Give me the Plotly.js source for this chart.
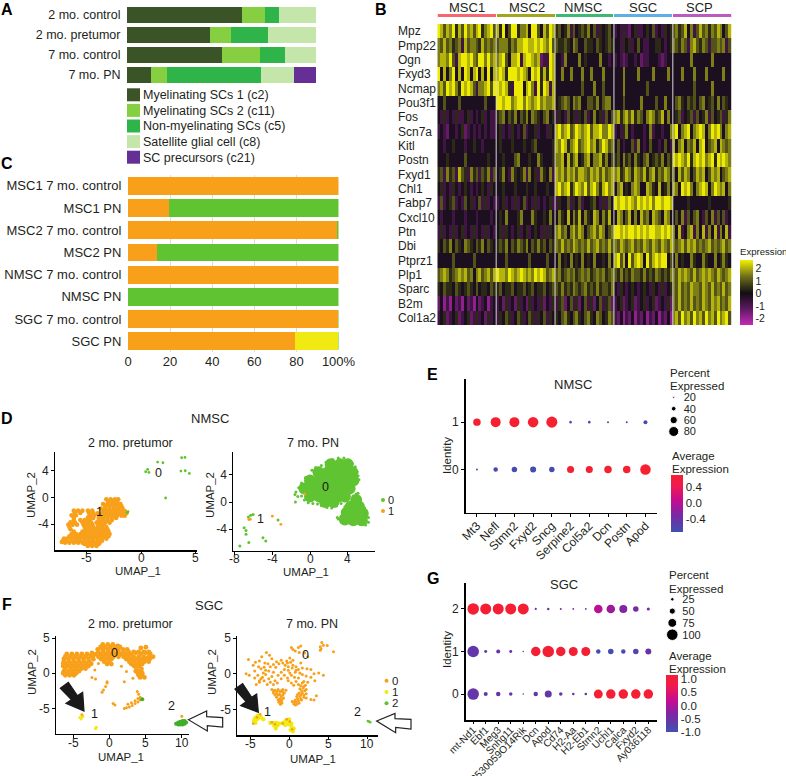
<!DOCTYPE html>
<html><head><meta charset="utf-8">
<script src="https://cdn.plot.ly/plotly-3.0.1.min.js"></script>
<style>html,body{margin:0;padding:0;background:#fff}</style></head>
<body><div id="c" style="width:786px;height:776px"></div>
<script>
const W=786,H=776,FONT='"Liberation Sans",Arial,sans-serif',INK='#231f20';
// ---------- Panel A
const aRows=['2 mo. control','2 mo. pretumor','7 mo. control','7 mo. PN'];
const aNames=['Myelinating SCs 1 (c2)','Myelinating SCs 2 (c11)','Non-myelinating SCs (c5)','Satellite glial cell (c8)','SC precursors (c21)'];
const aColors=['#3a5428','#86cf40','#2fb44a','#c5e6ab','#662f96'];
const aC2=[60.8,43.8,50.4,12.5];
const aC11=[12.2,11.1,20.0,8.7];
const aC5=[7.2,19.6,13.4,49.6];
const aC8=[19.8,25.5,16.2,17.8];
const aC21=[0,0,0,11.4];
// ---------- Panel C
const cRows=['MSC1 7 mo. control','MSC1 PN','MSC2 7 mo. control','MSC2 PN','NMSC 7 mo. control','NMSC PN','SGC 7 mo. control','SGC PN'];
const cOrange=[100,19.7,99.5,14,100,0,99.7,79.5];
const cYellow=[0,0,0,0,0,0,0,20.2];
const cGreen=[0,80.3,0.5,86,0,100,0.3,0.3];
// ---------- Panel B
const clusters=['MSC1','MSC2','NMSC','SGC','SCP'];
const clusterColors=['#f8666d','#a3a51e','#3cb873','#5cb0e3','#bb5bbf'];
const genes=['Mpz','Pmp22','Ogn','Fxyd3','Ncmap','Pou3f1','Fos','Scn7a','Kitl','Postn','Fxyd1','Chl1','Fabp7','Cxcl10','Ptn','Dbi','Ptprz1','Plp1','Sparc','B2m','Col1a2'];
const heatLevels=[-2.4,-1.85,-1.3,-0.75,-0.15,0.4,0.95,1.5,2.05,2.6];
const heatRows=[
'98687958697868957896 85946995778499648698 56457364565746354564 34353245334546343545 67568473686757687468',
'76867567386776586767 67775768899889898796 65565476446554654565 44354534643344554345 76576378657636676736',
'78879638998976997978 78964889389987823398 44374444745444474434 34323443423344432344 44444474444447444444',
'94847948498489484948 89859998987498958598 44744744474474447444 44474444744447444474 44474447444744444744',
'78698975989863778969 98985399948973959838 44444444464447446444 44474444444644444444 44444446444447444444',
'44644446444444446444 99899789979878978778 45676476744665746774 44464444474444644744 46754656467456474654',
'43534353345343453433 56746574657476546745 35436453546347453646 78578685764787568474 45634563645736456357',
'34324434523434343433 45343543463445344354 89789679878968897798 34357434443473443447 89478947898479897478',
'44344544434454434444 45444544454456444445 87985789678978579867 46434463743464434643 84784768489467848767',
'44454444464444444544 44544467444544754445 77848578457847785746 56475647546745657465 98987958989789598987',
'56375638653756365736 45743754573745375473 87868786887687868678 78568758768578576875 74868746878468784678',
'45343543454343454354 44544454445445444544 89789579879689758978 47845478744875484574 87498974789847987847',
'36345634364534635343 34534353463435343453 35446354634456435364 98998987989897998998 44444544444454444445',
'43444344434443444434 45474445744475445474 47548475847548747584 48746847486748764874 46473646743647364634',
'35343534534353435343 45354345345345435354 78674786874678687467 99898998989899889898 74834783748374837483',
'54657465476546574654 56574657657465756465 76867687676867867686 76876786768768768768 76786878676786767867',
'44444644444464444444 44464444444644444644 47454745474547445474 89684968984968989946 47454475447544745754',
'67875678786747867868 98879878987879898678 67567675676756767567 65756576657565765657 76878768678787687678',
'54655465456546455465 56455645564564556456 65756576567565756657 43543454345435435345 76867687768768676867',
'24131423142314234134 34253425342534352435 35624635246352463562 34523452345345234352 76867686768768786768',
'34523452345235342534 35465346534653546354 54675467546754764576 32413241324132413241 78697869786978697896'];
// ---------- Panel D
const dLeftC1=[[-3.2,-.3],[-2.8,-.3],[-2.4,-.3],[-2.1,-.3],[-3.5,-1],[-3.1,-1],[-2.7,-1],[-2.3,-1],[-1.9,-1],[-3.7,-1.7],[-3.3,-1.7],[-2.9,-1.7],[-2.5,-1.7],[-2.1,-1.7],[-1.7,-1.7],[-4,-2.4],[-3.6,-2.4],[-3.2,-2.4],[-2.8,-2.4],[-2.4,-2.4],[-2,-2.4],[-1.6,-2.4],[-1.35,-2.4],[-4.4,-3.1],[-3.9,-3.1],[-3.5,-3.1],[-3.1,-3.1],[-2.7,-3.1],[-2.3,-3.1],[-4.1,-3.8],[-3.7,-3.8],[-3.3,-3.8],[-2.9,-3.8],[-6.2,-2],[-5.8,-2],[-5.4,-2],[-4.9,-2],[-4.5,-2],[-6.4,-2.7],[-6,-2.7],[-4.7,-2.7],[-4.3,-2.7],[-6.2,-3.4],[-5.6,-3.4],[-5.2,-3.4],[-4.8,-3.4],[-6.7,-4.1],[-6.3,-4.1],[-5.9,-4.1],[-5.3,-4.1],[-4.9,-4.1],[-4.5,-4.1],[-3.9,-4.1],[-3.5,-4.1],[-6.5,-4.8],[-5.1,-4.8],[-4.7,-4.8],[-4.3,-4.8],[-3.9,-4.8],[-3.5,-4.8],[-3.1,-4.8],[-6.4,-5.5],[-6,-5.5],[-5.6,-5.5],[-5.2,-5.5],[-4.8,-5.5],[-4.4,-5.5],[-4,-5.5],[-3.6,-5.5],[-3.2,-5.5],[-2.9,-5.5],[-7.1,-6.2],[-6.8,-6.2],[-6.4,-6.2],[-6,-6.2],[-5.6,-6.2],[-5.2,-6.2],[-4.8,-6.2],[-4.4,-6.2],[-4,-6.2],[-3.6,-6.2],[-3.2,-6.2],[-7.3,-6.7],[-7,-6.8],[-6.6,-6.8],[-6.2,-6.8],[-5.8,-6.8],[-5.4,-6.8],[-5,-6.8],[-4.6,-6.8],[-4.2,-6.8],[-3.8,-6.8],[-4.9,-7.3],[-4.5,-7.3],[-4.1,-7.3],
[-3,-.65],[-2.6,-.65],[-2.2,-.65],[-3.3,-1.35],[-2.9,-1.35],[-2.5,-1.35],[-2.1,-1.35],[-1.8,-1.35],[-3.5,-2.05],[-3.1,-2.05],[-2.7,-2.05],[-2.3,-2.05],[-1.9,-2.05],[-1.5,-2.05],[-3.8,-2.75],[-3.4,-2.75],[-3,-2.75],[-2.6,-2.75],[-2.2,-2.75],[-1.8,-2.75],[-1.5,-2.75],[-3.9,-3.45],[-3.5,-3.45],[-3.1,-3.45],[-2.7,-3.45],[-6.1,-2.35],[-5.6,-2.35],[-4.8,-2.35],[-4.4,-2.35],[-6.2,-3.05],[-4.9,-3.05],[-4.5,-3.05],[-6.5,-3.75],[-6.1,-3.75],[-5.4,-3.75],[-5,-3.75],[-4.6,-3.75],[-3.7,-3.75],[-6.6,-4.45],[-5.2,-4.45],[-4.8,-4.45],[-4.4,-4.45],[-4,-4.45],[-3.6,-4.45],[-3.2,-4.45],[-6.2,-5.15],[-5.4,-5.15],[-5,-5.15],[-4.6,-5.15],[-4.2,-5.15],[-3.8,-5.15],[-3.4,-5.15],[-3,-5.15],[-6.6,-5.85],[-6.2,-5.85],[-5.8,-5.85],[-5.4,-5.85],[-5,-5.85],[-4.6,-5.85],[-4.2,-5.85],[-3.8,-5.85],[-3.4,-5.85],[-3,-5.85],[-7.2,-6.5],[-6.8,-6.5],[-6.4,-6.5],[-6,-6.5],[-5.6,-6.5],[-5.2,-6.5],[-4.8,-6.5],[-4.4,-6.5],[-4,-6.5],[-3.6,-6.5],[-5.2,-7],[-4.7,-7],[-4.3,-7],[-3.9,-7]];
const dLeftC0=[[.43,3.84],[.61,4.19],[.73,3.74],[1.53,5.29],[2.02,5.19],[3.74,5.94],[4.05,5.99],[3.68,3.94],[4.08,3.99],[4.45,3.59],[2.27,-.1],[-1.2,-2.16],[-1.3,-2.3]];
const dRightCore=[[2.2,5.6],[3.2,5.6],[4,5.6],[.9,4.4],[1.9,4.4],[2.9,4.4],[3.9,4.4],[4.5,4.4],[0,3.2],[1,3.2],[2,3.2],[3,3.2],[4,3.2],[4.6,3.2],[-.6,2],[.4,2],[1.4,2],[2.4,2],[3.4,2],[4.2,2],[0,.8],[1,.8],[2,.8],[3,.8],[3.7,.8],[1.6,0],[2.5,0],[4.9,.3],[4.3,-.7],[5.2,-.7],[3.9,-1.6],[4.9,-1.6],[5.6,-1.7],[3.7,-2.6],[4.6,-2.7],[5.5,-2.7]];
const dRightEdge=[[1.2,5.4],[1.7,5.9],[2.4,6.3],[3,6.5],[3.6,6.5],[4.1,6.2],[4.5,5.7],[4.8,5.2],[5,4.5],[5.1,3.9],[5.2,3.3],[.2,4.7],[.6,5.1],[-.5,3.6],[-.9,2.8],[-1.2,2.1],[-1.5,1.5],[-1.6,1.1],[-1.3,.8],[-.9,.9],[-.6,.3],[-.2,-.1],[.3,-.2],[.8,-.3],[1.2,-.5],[1.8,-.8],[2.3,-.9],[2.8,-.6],[3.3,-.2],[3.6,.2],[4.6,.9],[4.9,1.2],[5.1,1.3],[5.3,.5],[5.5,-.2],[5.8,-.9],[6,-1.6],[6.2,-2.3],[6.2,-3],[5.9,-3.4],[5.3,-3.3],[4.6,-3.2],[4,-3],[3.4,-2.8],[3,-2.5],[2.9,-2.3],[3.3,-2.1],[3.5,-1.3],[3.7,-.7],[-1.55,0],[-7.45,-6.5],[-6.5,-6],[-7,-3.8],[-6.8,-4.2],[-6.8,-4.75],[-5,-5.3],[-4.7,-5.75],[-6.55,-2.2],[-6.3,-1.95],[-6.05,-1.85],[-3.4,-2.65]];
const dRightC1=[[-6.5,-2.6],[-6.35,-2.55],[-4,-2.1],[-3.1,-3.3],[-.55,1.2]];
// ---------- Panel F
const fLeftCore=[[-6.2,2.4],[-5.5,2.4],[-4.8,2.4],[-4.1,2.4],[-3.4,2.4],[-2.7,2.5],[-6.4,1.7],[-5.7,1.7],[-5,1.7],[-4.3,1.7],[-3.6,1.7],[-2.9,1.7],[-2.3,2],[-6.5,1],[-5.8,1],[-5.1,1],[-4.4,1],[-3.7,1],[-3,1],[-6.4,.3],[-5.7,.3],[-5,.3],[-4.3,.3],[-6.2,-.3],[-5.6,-.3],[-5,-.3],[-1,4.1],[-.3,4.1],[.4,4.1],[1.1,3.9],[-1.7,3.4],[-1,3.4],[-.3,3.4],[.4,3.4],[1.1,3.4],[1.8,3.4],[2.4,3.4],[4.3,3.6],[5,3.7],[-2,2.7],[-1.3,2.7],[-.6,2.7],[.1,2.7],[.8,2.7],[1.5,2.7],[2.2,2.7],[2.9,2.7],[3.6,2.9],[4.3,2.8],[5,2.9],[5.6,2.8],[-1.2,2],[-.5,2],[.2,2],[2.3,2],[3,2],[3.7,2],[4.4,2],[5,2.1],[5.6,2.1],[-.4,1.3],[.2,1.3],[3,1.3],[3.8,1.3],[4.5,1.3],[3.7,.6],[4.4,.6],[3.9,0],[4.5,0],[4.2,-.6],[4.8,-.6],
[-6.4,2.05],[-5.8,2.05],[-5.1,2.05],[-4.4,2.05],[-3.7,2.05],[-3,2.05],[-2.4,2.4],[-6.5,1.35],[-6.1,1.35],[-5.4,1.35],[-4.7,1.35],[-4,1.35],[-3.3,1.35],[-2.6,1.35],[-6.2,.65],[-5.4,.65],[-4.7,.65],[-4,.65],[-3.4,.65],[-6.5,0],[-6,0],[-5.3,0],[-4.7,0],[-6,2.75],[-5.3,2.75],[-4.6,2.75],[-3.9,2.75],[-3.2,2.75],[-2.5,2.9],[-1.3,3.75],[-.7,3.75],[0,3.75],[.7,3.75],[1.4,3.75],[-1.6,3.05],[-.9,3.05],[-.2,3.05],[.5,3.05],[1.2,3.05],[1.9,3.05],[2.6,3.05],[3.3,3.05],[4,3.05],[4.7,3.05],[5.4,3.05],[-1.6,2.35],[-.9,2.35],[-.2,2.35],[.5,2.35],[1.2,2.35],[1.9,2.35],[2.6,2.35],[3.3,2.35],[4,2.35],[4.7,2.35],[5.4,2.35],[6,2.35],[-.8,1.65],[-.1,1.65],[2.7,1.65],[3.4,1.65],[4.1,1.65],[4.8,1.65],[5.4,1.65],[3.4,1],[4.1,1],[3.6,.3],[4.2,.3],[4,-.3],[4.5,-.3]];
const fLeftEdge=[[-2.1,.47],[-2.5,-.6],[-2,-.8],[-.4,-1.4],[-.6,-1.9],[-.9,-2.4],[-1.1,-2.7],[-.4,-1.2],[-1.6,1.4],[-1.4,2.1],[2,-1.2],[.45,-4.3],[.7,-4.5],[2.3,.25],[2.8,1.4],[1.6,1],[3.2,-.7],[3.8,-2.6],[4,-3],[4.2,-3.4],[4.2,-3.8],[3.9,-4.1],[3.5,-4.3],[3.1,-4.6],[2.7,-4.8],[2.3,-4.9],[2,-5],[3.9,-3.6],[3.5,-3.9],[3,-4.2],[2.5,-4.4],[-3.8,-6.1],[-3.9,-5.9],[9.9,-7],[10,-6.1]];
const fLeftC1=[[-4.2,-6.3],[-4,-6.5],[-3.8,-6.2],[-2,-7.9],[-1.9,-7.7]];
const fLeftC2=[[9.2,-7.2],[9.5,-7],[9.8,-6.9],[10.1,-6.8],[10.4,-6.8],[10.6,-7],[10.4,-7.2],[10.1,-7.3],[9.8,-7.3],[9.5,-7.3],[9.8,-7.1],[10.2,-7],[4.5,-3.7]];
const fRightC0=[[4,3.8],[4.4,4],[4.9,3.95],[5.7,3.1],[4.2,4.4],[4.1,3.5],[4,3.3],[.3,3.7],[.5,3.4],[1.2,3.7],[1.5,3.9],[.8,3.2],[1.3,3],[2,2.9],[2.4,2.4],[-2.9,3],[-2.5,2.6],[-3.5,2.4],[-2.2,2.1],[-1.6,1.7],[-1,1.9],[-.3,1.8],[-.2,1.5],[.1,2.2],[-.5,1.2],[-.1,1],[.2,1.6],[.5,1.9],[.5,1.2],[.9,1],[1.2,.6],[1.5,1.5],[1.7,.8],[2.3,.7],[-.1,.5],[-5.2,2],[-4.6,1.2],[-3.9,1],[-3.2,.9],[-4.4,.4],[-5.5,0],[-5.1,-.2],[-4.4,-.6],[-3.8,-1],[-3.2,-1],[-4.2,-1.5],[-3.8,-1.2],[-3.4,-.5],[-3,-.1],[-2.6,.4],[-2.4,1],[-2.7,1.4],[-3.1,1.5],[-2,.2],[-1.7,.9],[-1.4,-.2],[-1.8,-1],[-2.4,-1.2],[-2.8,-1.5],[-2,-1.5],[-1.5,-1.3],[-1,-.7],[-.6,-.2],[-.2,-.6],[.3,-.2],[.8,.2],[.7,-.5],[1.2,-.6],[1.7,-.1],[2.2,-.3],[2.8,-.5],[3.2,0],[3.8,.1],[4.4,-.2],[2.8,.6],[3.3,-1],[1.9,-1.1],[-2.2,-2.2],[-1.8,-2.3],[-1.4,-2.2],[-1,-2.4],[-.8,-2.2],[-2,-2.7],[-1.6,-2.8],[-1.2,-2.9],[-.8,-3],[-1.6,-3.3],[-1.2,-3.5],[-.9,-3.6],[-1.3,-4],[-.9,-4.1],[-1.1,-4.3],[-.6,-2.7],[-.4,-2.3],[1.2,-1.5],[1.7,-1.3],[2.1,-1.6],[1.4,-2.1],[1.8,-2],[2.2,-2.2],[1.3,-2.7],[1.7,-2.7],[2.2,-2.8],[2.4,-1.2],[1,-3.2],[1.4,-3.2],[1.9,-3.3],[2.2,-3.4],[.8,-3.7],[1.2,-3.8],[1.6,-3.7],[.6,-4.2],[1,-4.3],[.4,-3.9],[2.8,-3.6],[3.2,-3.7],[3.5,-3.1],
[-2,-2.4],[-1.6,-2.5],[-1.2,-2.5],[-.8,-2.6],[-1.8,-3],[-1.4,-3],[-1,-3.2],[-1.4,-3.7],[-1.1,-3.8],[-.7,-3.4],[-1,-3.9],[1.5,-1.7],[1.9,-1.8],[1.6,-2.4],[2,-2.4],[1.5,-3],[1.9,-3],[1.1,-2.9],[1.1,-3.5],[1.5,-3.5],[.9,-4],[1.3,-4.1],[.7,-3.9],[.8,-4.4],[-3.6,.7],[-3,.5],[-3.3,.1],[-4,-.2],[-3.6,-.7],[-2.6,-.7],[-2.2,-.4],[-1,.2],[-.6,.6],[-.1,-1],[.3,-1.3],[.6,-1.6],[.9,-1.1],[1.4,.1],[.4,.8],[.9,.5],[.1,.1],[-.8,1.5],[-1.3,1.4],[-2,1.3],[-3.8,1.8],[-4.3,1.6]];
const fRightC1=[[-4.5,-6.6],[-4.3,-6.9],[-4.4,-6.3],[-4.2,-6.1],[-4,-5.9],[-4.1,-6.4],[-3.9,-6.2],[-3.6,-6.1],[-3.3,-6.4],[-2.4,-6.9],[-2,-6.9],[-1.6,-6.9],[-1.9,-7.3],[-1.7,-7.7],[-1.5,-7.3],[-1.2,-7],[-.8,-6.9],[-.5,-6.7],[-.3,-6.5],[0,-6.7],[.3,-7],[-.1,-7.1],[-.5,-7.2],[.3,-7.4],[.6,-7.7],[.2,-7.9],[.5,-8.1],[0,-6.4]];
const fRightC0b=[[-4.6,-7],[-3.7,-5.7],[-4.1,-6.1],[-.3,-6.4],[.1,-6.7],[.4,-7.8],[-1.8,-7.1],[-2.2,-6.8],[-.8,-7]];
const fRightC2=[[10.1,-6.65],[10.26,-6.72],[10.4,-6.8]];
// ---------- Panel E
const eGenes=['Mt3','Nefl','Stmn2','Fxyd2','Sncg','Serpine2','Col5a2','Dcn','Postn','Apod'];
const ePct1=[61,80,80,84,88,24,24,20,20,35];
const ePct0=[20,39,46,50,46,58,58,61,61,84];
const eAvg1=[.7,.7,.7,.7,.7,-.7,-.7,-.7,-.7,-.7];
const eAvg0=[-.7,-.7,-.7,-.7,-.7,.7,.7,.7,.7,.7];
const eKeys=['20','40','60','80'];
// ---------- Panel G
const gGenes=['mt-Nd1','Ebf1','Meg3','Snhg11','9530059O14Rik','Dcn','Apod','Cd74','H2-Aa','H2-Eb1','Stmn2','Uchl1','Calca','Fxyd2','Ay036118'];
const gPct2=[100,95,95,95,95,13,16,11,9,9,72,72,67,44,21];
const gPct1=[100,20,30,20,7,81,100,81,76,76,34,44,34,44,48];
const gPct0=[100,30,34,25,7,34,58,25,16,16,76,81,81,81,81];
const gAvg2=[1.1,1.1,1.1,1.1,1.1,-.5,-.55,-.45,-.45,-.45,.1,-.1,-.3,-.4,-.5];
const gAvg1=[-.6,-.7,-.55,-.55,-.5,1.1,1.1,1.1,1.1,1.1,-1,-.95,-.95,-.8,-.5];
const gAvg0=[-.6,-.65,-.6,-.6,-.5,-.6,-.6,-.6,-.6,-.6,1.1,1.1,1.1,1.1,1.1];
const gKeys=['25','50','75','100'];
const dotScale=[[0,'#4050b0'],[.3,'#7a28a4'],[.55,'#c40c92'],[.8,'#ef1a50'],[1,'#f52030']];
const ORANGE='#f8a01a',GREEN='#60c332',YELLOW='#f0ea12';

const px=(a,b)=>[a/W,b/W], py=(t,b)=>[1-b/H,1-t/H];
const data=[];
[aC2,aC11,aC5,aC8,aC21].forEach((v,i)=>data.push({type:'bar',orientation:'h',y:aRows,x:v,name:aNames[i],marker:{color:aColors[i]},xaxis:'x',yaxis:'y',showlegend:false}));
data.push({type:'scatter',mode:'markers',x:aNames.map(()=>0),y:aNames,marker:{symbol:'square',size:13,color:aColors,opacity:1},xaxis:'x2',yaxis:'y2',showlegend:false,cliponaxis:false});
[[cOrange,ORANGE],[cYellow,YELLOW],[cGreen,GREEN]].forEach(([v,c])=>data.push({type:'bar',orientation:'h',y:cRows,x:v,marker:{color:c},xaxis:'x3',yaxis:'y3',showlegend:false}));
const heatZ=heatRows.map(r=>r.split(' ').flatMap(g=>g.padEnd(20,g.slice(-1)).slice(0,20).split('').map(c=>heatLevels[+c])));
data.push({type:'heatmap',z:heatZ,y:genes,xaxis:'x4',yaxis:'y4',zmin:-2.5,zmax:2.65,zsmooth:false,
 colorscale:[[0,'#c42bb4'],[.25,'#5c1a60'],[.49,'#120d14'],[.75,'#70701a'],[1,'#f2f000']],hoverinfo:'skip',
 colorbar:{x:740/W,xanchor:'left',y:1-260/H,yanchor:'top',lenmode:'pixels',len:65,thicknessmode:'pixels',thickness:12.5,xpad:0,ypad:0,outlinewidth:0,tickvals:[-2,-1,0,1,2],ticktext:['-2','-1','0','1','2'],ticks:'',tickfont:{size:10.5,family:FONT,color:INK}}});
clusters.forEach((c,i)=>data.push({type:'bar',orientation:'h',y:['a'],x:[1],name:c,marker:{color:clusterColors[i],line:{color:'#fff',width:1}},xaxis:'x5',yaxis:'y5',showlegend:false}));
const pts=(arr,color,size,xa,ya)=>data.push({type:'scatter',mode:'markers',x:arr.map(p=>p[0]),y:arr.map(p=>p[1]),marker:{color,size,opacity:1,line:{width:0}},xaxis:xa,yaxis:ya,showlegend:false});
pts(dLeftC1,ORANGE,4.6,'x6','y6'); pts(dLeftC0,GREEN,2.8,'x6','y6');
pts(dRightCore,GREEN,12,'x7','y7'); pts(dRightEdge,GREEN,3,'x7','y7'); pts(dRightC1,ORANGE,2.8,'x7','y7');
data.push({type:'scatter',mode:'markers',x:[0,0],y:['0','1'],marker:{color:[GREEN,ORANGE],size:4,opacity:1},xaxis:'x8',yaxis:'y8',showlegend:false});
pts(fLeftCore,ORANGE,4.8,'x9','y9'); pts(fLeftEdge,ORANGE,3,'x9','y9'); pts(fLeftC2,'#3fae2a',4,'x9','y9'); pts(fLeftC1,YELLOW,3,'x9','y9');
pts(fRightC0,ORANGE,3,'x10','y10'); pts(fRightC1,YELLOW,4.2,'x10','y10'); pts(fRightC0b,ORANGE,2.6,'x10','y10'); pts(fRightC2,GREEN,2.6,'x10','y10');
data.push({type:'scatter',mode:'markers',x:[0,0,0],y:['0','1','2'],marker:{color:[ORANGE,YELLOW,GREEN],size:4,opacity:1},xaxis:'x11',yaxis:'y11',showlegend:false});
const eSize=p=>2+(p-20)*.133, gSize=p=>.83+p*.107;
const dots=(genesArr,yv,pct,avg,size,xa,ya,cmin,cmax,cb)=>data.push({type:'scatter',mode:'markers',x:genesArr,y:genesArr.map(()=>yv),
 marker:{size:pct.map(size),color:avg,cmin,cmax,colorscale:dotScale,opacity:1,line:{width:0},showscale:!!cb,colorbar:cb},xaxis:xa,yaxis:ya,showlegend:false});
const cb=(x,top,len,vals,txt)=>({x:x/W,xanchor:'left',y:1-top/H,yanchor:'top',lenmode:'pixels',len,thicknessmode:'pixels',thickness:11.5,xpad:0,ypad:0,outlinewidth:0,tickvals:vals,ticktext:txt,ticks:'',tickfont:{size:11.5,family:FONT,color:INK}});
dots(eGenes,1,ePct1,eAvg1,eSize,'x12','y12',-.74,.685,cb(670.7,475.3,57,[-.4,0,.4],['-0.4','0.0','0.4']));
dots(eGenes,0,ePct0,eAvg0,eSize,'x12','y12',-.74,.685);
data.push({type:'scatter',mode:'markers',x:eKeys.map(()=>0),y:eKeys,marker:{color:'#000',opacity:1,size:eKeys.map(k=>eSize(+k))},xaxis:'x13',yaxis:'y13',showlegend:false});
dots(gGenes,2,gPct2,gAvg2,gSize,'x14','y14',-1.0,1.15,cb(666,675,57,[-1,-.5,0,.5,1],['-1.0','-0.5','0.0','0.5','1.0']));
dots(gGenes,1,gPct1,gAvg1,gSize,'x14','y14',-1.0,1.15);
dots(gGenes,0,gPct0,gAvg0,gSize,'x14','y14',-1.0,1.15);
data.push({type:'scatter',mode:'markers',x:gKeys.map(()=>0),y:gKeys,marker:{color:'#000',opacity:1,size:gKeys.map(k=>gSize(+k))},xaxis:'x15',yaxis:'y15',showlegend:false});

const hidden={showgrid:false,zeroline:false,showticklabels:false,ticks:'',showline:false,fixedrange:true};
const f=(s)=>({size:s,family:FONT,color:INK});
const umap=(dom,range,vals,a,extra={})=>({domain:dom,range,tickmode:'array',tickvals:vals,ticktext:vals.map(String),showgrid:false,zeroline:false,showline:true,linecolor:'#000',linewidth:1.5,ticks:'outside',ticklen:2.5,tickcolor:'#000',tickfont:f(12),anchor:a,...extra});
const catKey=(dom,cats,a,size,extra={})=>({type:'category',domain:dom,range:[cats.length-.5,-.5],tickmode:'array',tickvals:cats,ticktext:cats,side:'right',showgrid:false,zeroline:false,showline:false,ticks:'',tickfont:f(size),anchor:a,...extra});
const xOff={showticklabels:false};
const layout={width:W,height:H,margin:{l:0,r:0,t:0,b:0},paper_bgcolor:'#fff',plot_bgcolor:'rgba(0,0,0,0)',barmode:'stack',font:{family:FONT,color:INK},showlegend:false,
 xaxis:{...hidden,domain:px(127,316),range:[0,100],anchor:'y'},
 yaxis:{type:'category',domain:py(5,85),range:[3.5,-.5],showgrid:false,zeroline:false,ticks:'outside',ticklen:3,tickcolor:'rgba(0,0,0,0)',tickfont:f(12.5),anchor:'x'},
 xaxis2:{...hidden,domain:px(127,140),range:[-1,1],anchor:'y2'},
 yaxis2:catKey(py(87,165),aNames,'x2',12.5,{ticklabelstandoff:2}),
 xaxis3:{domain:px(128,338.5),range:[0,100],tickmode:'array',tickvals:[0,20,40,60,80,100],ticktext:['0','20','40','60','80','100%'],showgrid:true,gridcolor:'#dcdcdc',gridwidth:1,zeroline:false,showline:false,ticks:'',tickfont:f(13),anchor:'y3'},
 yaxis3:{type:'category',domain:py(174.6,352.4),range:[7.5,-.5],showgrid:false,zeroline:false,ticks:'outside',ticklen:3,tickcolor:'rgba(0,0,0,0)',tickfont:f(13),anchor:'x3'},
 xaxis4:{...hidden,domain:px(437.3,731.7),range:[-.5,99.5],anchor:'y4'},
 yaxis4:{...hidden,type:'category',domain:py(24,325.3),range:[20.5,-.5],anchor:'x4'},
 xaxis5:{...hidden,domain:px(437.3,731.7),range:[0,5],anchor:'y5'},
 yaxis5:{...hidden,type:'category',domain:py(12.5,18.5),anchor:'x5'},
 xaxis6:umap(px(55,197),[-7.93,5.16],[-5,0,5],'y6',xOff),
 yaxis6:umap(py(452,550),[-7.9,6.8],[-4,0,4],'x6'),
 xaxis7:umap(px(233.3,375),[-8.15,6.9],[-8,-4,0,4],'y7',xOff),
 yaxis7:umap(py(452,550.7),[-7.2,7.4],[-4,0,4],'x7'),
 xaxis8:{...hidden,domain:px(379,387),range:[-1,1],anchor:'y8'},
 yaxis8:catKey(py(494.5,516.5),['0','1'],'x8',11),
 xaxis9:umap(px(56,189),[-7.5,11],[-5,0,5,10],'y9',xOff),
 yaxis9:umap(py(636,733.7),[-8.6,5.3],[-5,0,5],'x9'),
 xaxis10:umap(px(237.3,378),[-6.63,11.4],[-5,0,5,10],'y10',xOff),
 yaxis10:umap(py(636,735),[-8.6,5.3],[-5,0,5],'x10'),
 xaxis11:{...hidden,domain:px(382,391),range:[-1,1],anchor:'y11'},
 yaxis11:catKey(py(675,709),['0','1','2'],'x11',11.5),
 xaxis12:{type:'category',domain:px(465.7,656.7),range:[-.6,9.6],tickmode:'array',tickvals:eGenes,ticktext:eGenes,showgrid:false,zeroline:false,showline:true,linecolor:'#000',linewidth:1.5,ticks:'outside',ticklen:3,tickcolor:'#000',tickangle:-45,tickfont:f(12),ticklabelstandoff:-3,anchor:'y12'},
 yaxis12:{domain:py(379,512.7),range:[-.91,1.91],tickmode:'array',tickvals:[0,1],showgrid:false,zeroline:false,showline:true,linecolor:'#000',linewidth:1.5,ticks:'outside',ticklen:3,tickcolor:'#000',tickfont:f(12),anchor:'x12'},
 xaxis13:{...hidden,domain:px(667.7,679.7),range:[-1,1],anchor:'y13'},
 yaxis13:catKey(py(391.6,437.2),eKeys,'x13',11,{ticklabelstandoff:3}),
 xaxis14:{type:'category',domain:px(465.7,656.7),range:[-.6,14.67],tickmode:'array',tickvals:gGenes,ticktext:gGenes,showgrid:false,zeroline:false,showline:true,linecolor:'#000',linewidth:1.5,ticks:'outside',ticklen:2.5,tickcolor:'#000',tickangle:-45,tickfont:f(10.2),ticklabelstandoff:-4,anchor:'y14'},
 yaxis14:{domain:py(583,720),range:[-.61,2.61],tickmode:'array',tickvals:[0,1,2],showgrid:false,zeroline:false,showline:true,linecolor:'#000',linewidth:1.5,ticks:'outside',ticklen:3,tickcolor:'#000',tickfont:f(12),anchor:'x14'},
 xaxis15:{...hidden,domain:px(666.3,678.3),range:[-1,1],anchor:'y15'},
 yaxis15:catKey(py(593.4,640.6),gKeys,'x15',11,{ticklabelstandoff:3}),
 annotations:[],shapes:[]};
const T=(text,x,y,o={})=>layout.annotations.push({text:o.bold?'<b>'+text+'</b>':text,x:x/W,y:1-y/H,xref:'paper',yref:'paper',xanchor:o.anchor||'center',yanchor:'middle',showarrow:false,textangle:o.angle||0,font:{size:o.size||12,family:FONT,color:o.color||INK}});
const D=(text,x,y,xa,ya)=>layout.annotations.push({text,x,y,xref:xa,yref:ya,xanchor:'center',yanchor:'middle',showarrow:false,font:{size:12.5,family:FONT,color:'#1a1a1a'}});
// UMAP x tick labels sit tight under the axis, closer than the axis itself allows
[['x6',[-5,0,5],557.5],['x7',[-8,-4,0,4],558.5],['x9',[-5,0,5,10],743],['x10',[-5,0,5,10],744]].forEach(([xa,vals,y])=>vals.forEach(v=>
 layout.annotations.push({text:String(v),x:v,xref:xa,y:1-y/H,yref:'paper',xanchor:'center',yanchor:'middle',showarrow:false,font:f(12)})));
[['A',7,10],['B',381,10],['C',7,163],['D',7,418],['E',432,374],['F',7,604],['G',433,578]].forEach(([t,x,y])=>T(t,x,y,{bold:true,size:16,color:'#000'}));
genes.forEach(g=>layout.annotations.push({text:g,x:396/W,xref:'paper',xanchor:'left',y:g,yref:'y4',yanchor:'middle',showarrow:false,font:f(12)}));
[467,526.7,583,642.7,699].forEach((x,i)=>T(clusters[i],x,7.5,{size:13}));
T('Expression',737.5,251.7,{anchor:'left',size:9.6});
T('NMSC',210,418,{size:13});T('2 mo. pretumor',130,443,{size:12.5});T('7 mo. PN',312.7,443,{size:12.5});
T('SGC',209,605,{size:13});T('2 mo. pretumor',130,624,{size:12.5});T('7 mo. PN',312,624,{size:12.5});
T('NMSC',573,384,{size:13});T('SGC',564,584,{size:13});
[[138,571],[306,572],[120.7,757],[313,759]].forEach(([x,y])=>T('UMAP_1',x,y,{size:11.5}));
[[31,495],[210,495],[32,672],[212,672]].forEach(([x,y])=>T('UMAP_2',x,y,{size:11.5,angle:-90}));
T('Identity',447,456,{size:11.5,angle:-90});
T('Identity',447,650,{size:11.5,angle:-90});
T('Percent',668,373,{anchor:'left',size:11.5});T('Expressed',668,386.2,{anchor:'left',size:11.5});
T('Average',670,456,{anchor:'left',size:11.5});T('Expression',670,468.5,{anchor:'left',size:11.5});
T('Percent',666.7,575,{anchor:'left',size:11.5});T('Expressed',666.7,588.5,{anchor:'left',size:11.5});
T('Average',666.7,655.7,{anchor:'left',size:11.5});T('Expression',666.7,668.8,{anchor:'left',size:11.5});
D('1',-3.84,-2.16,'x6','y6');D('0',1.57,3.6,'x6','y6');
D('0',1.67,2.2,'x7','y7');D('1',-5.24,-2.5,'x7','y7');
D('0',.7,2.9,'x9','y9');D('1',-2.1,-5.8,'x9','y9');D('2',8.5,-4.7,'x9','y9');
D('0',2.05,2.6,'x10','y10');D('1',-2.7,-5.4,'x10','y10');D('2',8.8,-5.3,'x10','y10');
[19.5,39.5,59.5,79.5].forEach(x=>layout.shapes.push({type:'line',xref:'x4',yref:'y4 domain',x0:x,x1:x,y0:0,y1:1,line:{color:'#d8d8d8',width:1}}));
const arrow=(pts,fill,line)=>layout.shapes.push({type:'path',xref:'paper',yref:'paper',fillcolor:fill,line:{color:line,width:1.2},
 path:pts.map((p,i)=>(i?'L':'M')+(p[0]/3/W).toFixed(5)+' '+(1-(p[1]/3+575)/H).toFixed(5)).join(' ')+' Z'});
arrow([[181,340],[205,322],[232,362],[248,352],[252,408],[198,385],[214,374]],'#1a1a1a','#1a1a1a');
arrow([[705,342],[728,326],[755,367],[770,357],[775,412],[722,392],[738,380]],'#1a1a1a','#1a1a1a');
arrow([[565,434],[620,408],[620,425],[668,428],[668,456],[622,452],[622,468]],'#fff','#222');
arrow([[1130,438],[1185,415],[1185,431],[1233,433],[1233,462],[1187,457],[1187,473]],'#fff','#222');
Plotly.newPlot('c',data,layout,{displayModeBar:false,staticPlot:true});
</script></body></html>
